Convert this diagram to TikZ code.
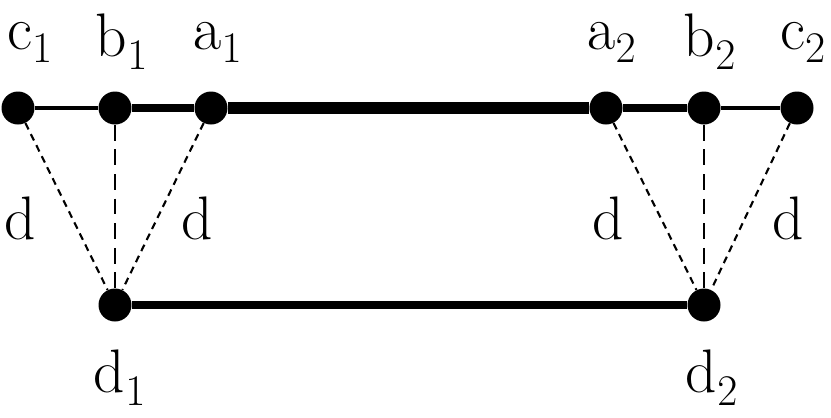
\documentclass[tikz,border=0pt]{standalone}
\usetikzlibrary{positioning}
\tikzset{
  dot/.style={circle, fill=black, inner sep=0pt, minimum size=0.66cm},
  lbl/.style={font=\fontsize{35}{42}\selectfont},
  thinbar/.style={line width=2pt},
  midbar/.style={line width=4pt},
  thickbar/.style={line width=6.5pt},
  fine/.style={line width=1.2pt, dash pattern=on 4pt off 3pt},
  coarse/.style={line width=1.2pt, dash pattern=on 9pt off 5pt}
}
\begin{document}
\begin{tikzpicture}[x=0.02cm, y=-0.02cm]
	\useasboundingbox (0,0) rectangle (831,417);
	% points on the top bar
	\node[dot] (c1) at (18,108) {};
	\node[dot] (b1) at (115,108) {};
	\node[dot] (a1) at (211,108) {};
	\node[dot] (a2) at (606,108) {};
	\node[dot] (b2) at (704,108) {};
	\node[dot] (c2) at (797,108) {};
	% points on the bottom bar
	\node[dot] (d1) at (115,305) {};
	\node[dot] (d2) at (704,305) {};
	% bars
	\draw[thinbar] (c1) -- (b1);
	\draw[midbar] (b1) -- (a1);
	\draw[thickbar] (a1) -- (a2);
	\draw[midbar] (a2) -- (b2);
	\draw[thinbar] (b2) -- (c2);
	\draw[line width=5pt] (d1) -- (d2);
	% links
	\draw[fine] (c1) -- (d1);
	\draw[coarse] (b1) -- (d1);
	\draw[fine] (a1) -- (d1);
	\draw[fine] (a2) -- (d2);
	\draw[coarse] (b2) -- (d2);
	\draw[fine] (c2) -- (d2);
	% labels
	\node[lbl] (lc1) at (30,42) {c$_1$};
	\node[lbl] (lb1) at (122,42) {b$_1$};
	\node[lbl] (la1) at (218,42) {a$_1$};
	\node[lbl] (la2) at (612,42) {a$_2$};
	\node[lbl] (lb2) at (710,42) {b$_2$};
	\node[lbl] (lc2) at (803,42) {c$_2$};
	\node[lbl] (ld11) at (20,218) {d};
	\node[lbl] (ld12) at (197,218) {d};
	\node[lbl] (ld21) at (608,218) {d};
	\node[lbl] (ld22) at (788,218) {d};
	\node[lbl] (ld1) at (120,378) {d$_1$};
	\node[lbl] (ld2) at (712,378) {d$_2$};
\end{tikzpicture}
\end{document}
